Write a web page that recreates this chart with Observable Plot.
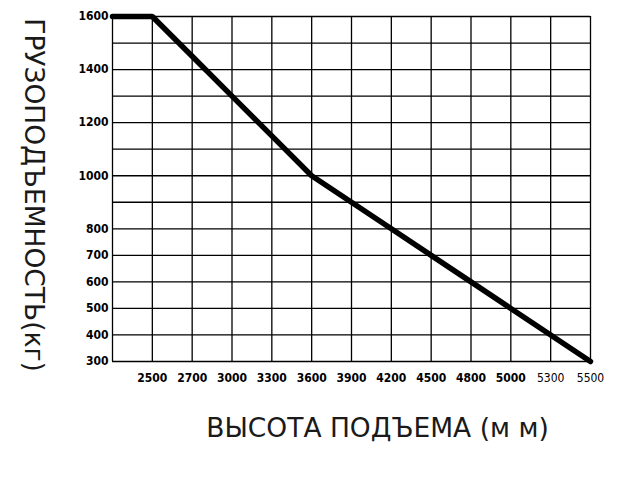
<!DOCTYPE html>
<html>
<head>
<meta charset="utf-8">
<script src="https://cdn.jsdelivr.net/npm/d3@7"></script>
<script src="https://cdn.jsdelivr.net/npm/@observablehq/plot@0.6"></script>
<style>
  html, body { margin: 0; padding: 0; background: #fff; }
</style>
</head>
<body>
<div id="chart"></div>
<script>
// Lift height categories (mm) and load capacity (kg)
const heights = ["", "2500", "2700", "3000", "3300", "3600", "3900", "4200", "4500", "4800", "5000", "5300", "5500"];
const capacity = [1600, 1600, 1450, 1300, 1150, 1000, 900, 800, 700, 600, 500, 400, 300];
const plainLabels = ["5300", "5500"];
const yTickLabels = [1600, 1400, 1200, 1000, 800, 700, 600, 500, 400, 300];
const yGridValues = [300, 400, 500, 600, 700, 800, 900, 1000, 1100, 1200, 1300, 1400, 1500, 1600];
const xTitle = "ВЫСОТА ПОДЪЕМА (м м)";
const yTitle = "ГРУЗОПОДЪЕМНОСТЬ(кг)";

const rows = heights.map((h, i) => ({i, h, v: capacity[i]}));
const tickFont = "'Liberation Sans Narrow', 'DejaVu Sans Condensed', sans-serif";

const chart = Plot.plot({
  width: 641,
  height: 483,
  marginLeft: 112,
  marginRight: 51,
  marginTop: 16,
  marginBottom: 122,
  x: {type: "linear", domain: [0, heights.length - 1], axis: null},
  y: {type: "linear", domain: [300, 1600], axis: null},
  style: {background: "#fff"},
  marks: [
    Plot.ruleX(rows, {x: "i", stroke: "#000", strokeWidth: 1.3, strokeOpacity: 1}),
    Plot.ruleY(yGridValues, {stroke: "#000", strokeWidth: 1.3, strokeOpacity: 1}),
    Plot.line(rows, {x: "i", y: "v", stroke: "#000", strokeWidth: 5.5, strokeLinejoin: "miter"}),
    Plot.text(yTickLabels, {
      y: d => d, text: d => String(d), frameAnchor: "left", dx: -4, textAnchor: "end",
      fontFamily: tickFont, fontWeight: "bold", fontSize: 12, fill: "#000"
    }),
    Plot.text(rows.filter(d => d.h && !plainLabels.includes(d.h)), {
      x: "i", text: "h", frameAnchor: "bottom", dy: 17, lineAnchor: "middle",
      fontFamily: tickFont, fontWeight: "bold", fontSize: 12, fill: "#000"
    }),
    Plot.text(rows.filter(d => plainLabels.includes(d.h)), {
      x: "i", text: "h", frameAnchor: "bottom", dy: 17, lineAnchor: "middle",
      fontFamily: tickFont, fontWeight: "normal", fontSize: 12, fill: "#000"
    }),
    Plot.text([xTitle], {
      frameAnchor: "bottom", dx: 26, dy: 67, lineAnchor: "middle", textAnchor: "middle",
      fontFamily: "'DejaVu Sans', sans-serif", fontSize: 26.5, fill: "#1a1a1a"
    }),
    Plot.text([yTitle], {
      frameAnchor: "left", dx: -79, dy: 6, rotate: 90, lineAnchor: "middle", textAnchor: "middle",
      fontFamily: "'DejaVu Sans', sans-serif", fontSize: 26.5, fill: "#1a1a1a"
    })
  ]
});
document.getElementById("chart").appendChild(chart);
</script>
</body>
</html>
